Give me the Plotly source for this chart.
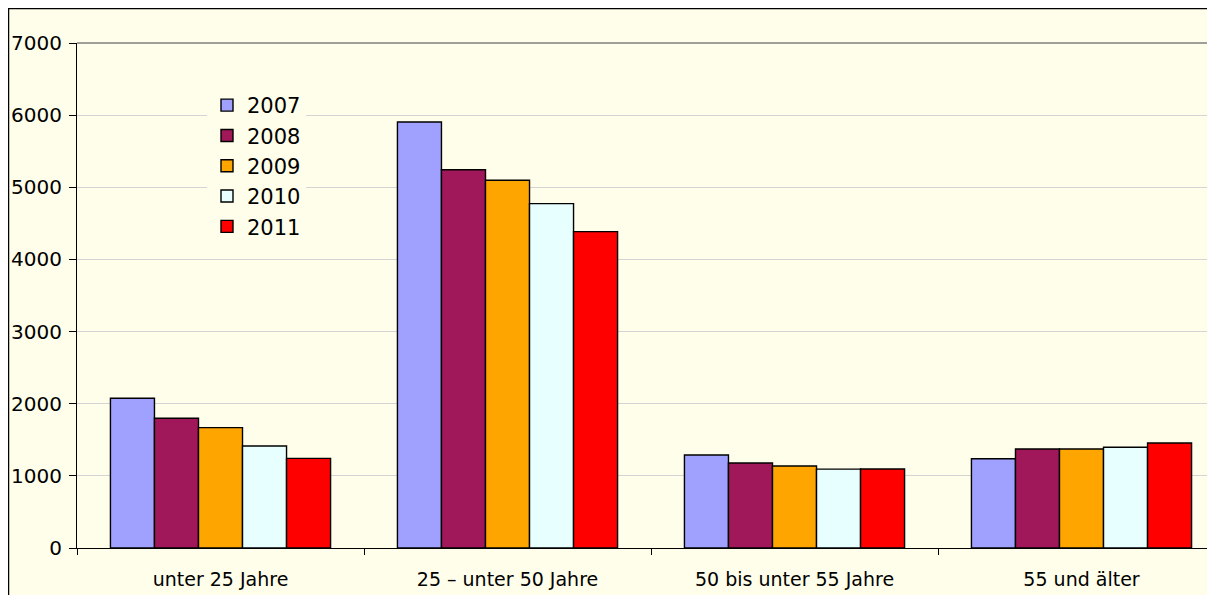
import plotly.graph_objects as go

categories = ["unter 25 Jahre", "25 – unter 50 Jahre", "50 bis unter 55 Jahre", "55 und älter"]
years = ["2007", "2008", "2009", "2010", "2011"]
values_2007 = [2075, 5905, 1289, 1238]
values_2008 = [1798, 5244, 1178, 1372]
values_2009 = [1668, 5097, 1137, 1372]
values_2010 = [1414, 4773, 1093, 1396]
values_2011 = [1243, 4385, 1095, 1455]
series = [values_2007, values_2008, values_2009, values_2010, values_2011]
colors = ["#A0A0FF", "#A0185A", "#FFA500", "#E8FFFF", "#FF0000"]

BG = "#FFFEEA"
FONT = "DejaVu Sans, Arial, sans-serif"

fig = go.Figure()
for name, vals, col in zip(years, series, colors):
    fig.add_trace(go.Bar(
        x=categories, y=vals, name=name,
        marker=dict(color=col, line=dict(color="#000000", width=1.4)),
    ))

W, H = 1215, 595
ml, mr, mt, mb = 69, 0, 35, 55
pw = W - ml - mr
ph = H - mt - mb

fig.update_layout(
    width=W, height=H,
    margin=dict(l=ml, r=mr, t=mt, b=mb),
    paper_bgcolor=BG,
    plot_bgcolor=BG,
    barmode="group",
    bargap=0.233,
    bargroupgap=0,
    font=dict(family=FONT, color="#000000"),
    showlegend=True,
    legend=dict(
        x=(199 - ml) / pw, y=(540 - 77) / ph, xanchor="left", yanchor="top",
        bgcolor=BG, borderwidth=0,
        font=dict(family=FONT, size=21, color="#000000"),
        traceorder="normal",
    ),
    xaxis=dict(
        range=[-0.5, 3.493],
        showgrid=False,
        showline=True, linecolor="#000000", linewidth=1,
        ticks="outside", ticklen=6, tickcolor="#000000",
        tickson="boundaries",
        tickfont=dict(family=FONT, size=19, color="#000000"),
        ticklabelstandoff=14,
    ),
    yaxis=dict(
        range=[0, 7000], dtick=1000,
        showgrid=True, gridcolor="#D4D4D4", gridwidth=1,
        showline=True, linecolor="#000000", linewidth=1,
        ticks="outside", ticklen=7, tickcolor="#000000",
        tickfont=dict(family=FONT, size=20, color="#000000"),
        ticklabelstandoff=3,
        zeroline=False,
    ),
    shapes=[
        dict(type="rect", xref="paper", yref="paper",
             x0=(0.5 - ml) / pw, x1=1.2, y0=-0.3, y1=(540 - 0.5) / ph,
             fillcolor=BG, line=dict(color="#000000", width=1.5), layer="below"),
        dict(type="line", xref="paper", yref="paper",
             x0=0, x1=1, y0=1, y1=1,
             line=dict(color="#808080", width=1.5)),
    ],
)

fig.write_html("out.html")
